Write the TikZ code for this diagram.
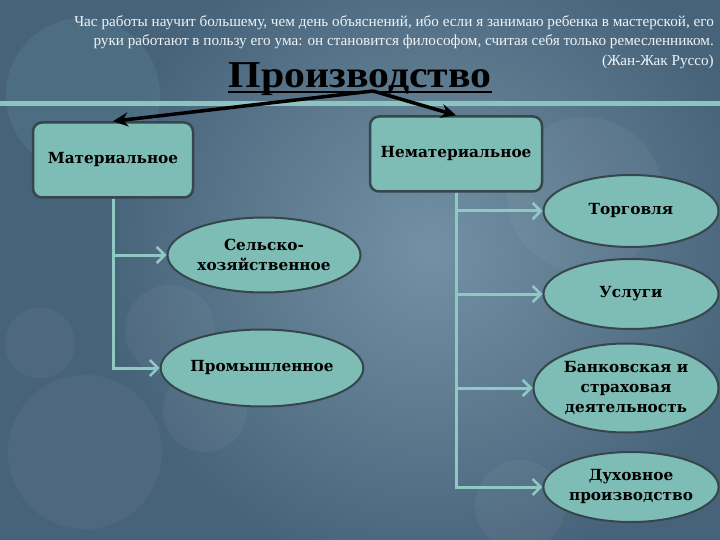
\documentclass[tikz,border=0pt]{standalone}
\usepackage{fontspec}
\setmainfont{Liberation Serif}
\newfontfamily\boxfont{DejaVu Serif}
\usetikzlibrary{arrows.meta,shapes.geometric}

\definecolor{bgbase}{HTML}{47637A}
\definecolor{bglight}{HTML}{7391A4}
\definecolor{band}{HTML}{8CC4BE}
\definecolor{boxfill}{HTML}{7EBDB5}
\definecolor{boxline}{HTML}{36464D}
\definecolor{trunk}{HTML}{8ECAC3}
\definecolor{quote}{HTML}{EEF3F5}

\tikzset{
  box/.style={draw=boxline, line width=2.5pt, fill=boxfill, rounded corners=9pt,
    font=\boxfont\bfseries\fontsize{15.3}{18}\selectfont, text=black},
  oval/.style={ellipse, draw=boxline, line width=2pt, fill=boxfill, inner sep=0pt,
    align=center, font=\boxfont\bfseries\fontsize{15.3}{20}\selectfont, text=black},
  branch/.style={draw=trunk, line width=3pt,
    -{Straight Barb[length=8pt,width=16pt,line width=2.5pt]}},
  pointer/.style={black, line width=3.5pt, -{Stealth[length=15pt,width=14pt]}},
  blob/.style={fill=white, opacity=0.045}
}

\begin{document}
\begin{tikzpicture}[x=1pt,y=-1pt]
%\draw [help lines, step=20] (0,0) grid (720,540);
\useasboundingbox (0,0) rectangle (720,540);
\fill [bgbase] (0,0) rectangle (720,540);
\shade [inner color=bglight, outer color=bgbase] (430,250) circle (330);
% circles in the background
\fill [teal!50, opacity=0.12] (83,95) circle (77);
\fill [blob] (40,343) circle (35);
\fill [blob] (85,452) circle (77);
\fill [blob] (170,330) circle (45);
\fill [blob] (205,410) circle (42);
\fill [blob] (585,195) circle (78);
\fill [blob] (520,505) circle (45);
\fill [band] (0,101) rectangle (720,106);

\node [anchor=north east, align=right, text=quote, inner sep=0pt,
  font=\fontsize{15.2}{19.5}\selectfont] (quote) at (714,15)
  {Час работы научит большему, чем день объяснений, ибо если я занимаю ребенка в мастерской, его\\
   руки работают в пользу его ума: он становится философом, считая себя только ремесленником.\\
   (Жан-Жак Руссо)};
\node [font=\bfseries\fontsize{38}{40}\selectfont, inner sep=0pt, anchor=base] (prod) at (360,88)
  {\scalebox{1.1}[1]{Производство}};
\draw [line width=2pt] ([yshift=-4pt]prod.base west) -- ([yshift=-4pt]prod.base east);
\coordinate (fork) at (373,91);

\node [box, minimum width=160, minimum height=75] (mat) at (113,160) {Материальное};
\node [box, minimum width=172, minimum height=75] (nemat) at (456,154) {Нематериальное};

\node [oval, minimum width=193, minimum height=75] (agr) at (264,255) {Сельско-\\хозяйственное};
\node [oval, minimum width=198, minimum height=77] (prom) at (262,368) {Промышленное};
\node [oval, minimum width=175, minimum height=72] (torg) at (631,211) {Торговля};
\node [oval, minimum width=175, minimum height=70] (usl) at (631,294) {Услуги};
\node [oval, minimum width=185, minimum height=89] (bank) at (626,388) {Банковская и\\страховая\\деятельность};
\node [oval, minimum width=175, minimum height=70] (duh) at (631,487) {Духовное\\производство};

\draw [pointer] (fork) -- (mat.north);
\draw [pointer] (fork) -- (nemat.north);

\draw [branch] (mat.south) |- (agr);
\draw [branch] (mat.south) |- (prom);
\draw [branch] (nemat.south) |- (torg);
\draw [branch] (nemat.south) |- (usl);
\draw [branch] (nemat.south) |- (bank);
\draw [branch] (nemat.south) |- (duh);
\end{tikzpicture}
\end{document}
